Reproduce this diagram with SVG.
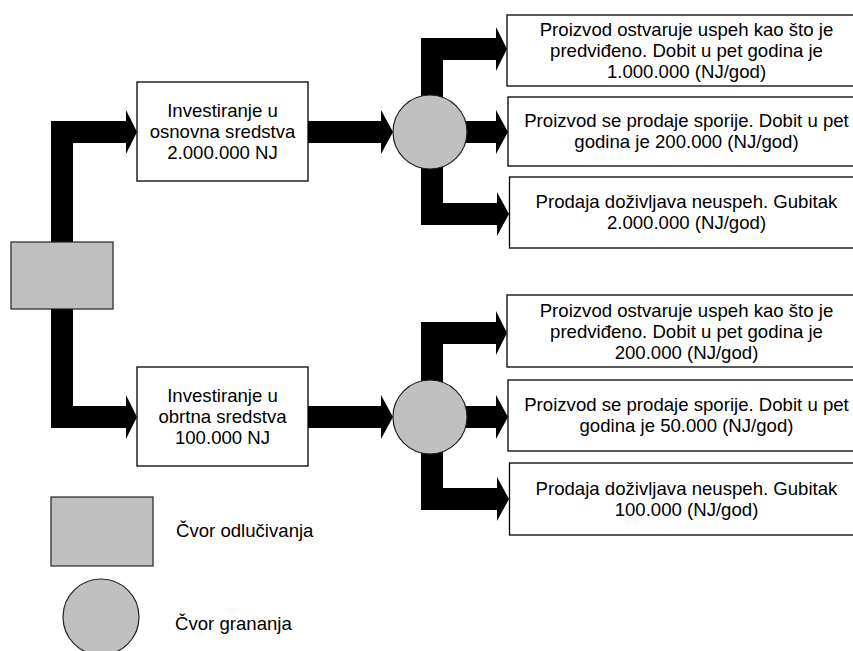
<svg xmlns="http://www.w3.org/2000/svg" width="853" height="651" viewBox="0 0 853 651">
<style>
.box{fill:#fff;stroke:#000;stroke-width:1.3}
.gray{fill:#c0c0c0;stroke:#222;stroke-width:1.2}
.arr{fill:#000;stroke:none}
text{font-family:"Liberation Sans",Arial,sans-serif;font-size:18.6px;fill:#000}
.c{text-anchor:middle}
</style>
<rect width="853" height="651" fill="#fff"/>
<g id="connectors">
<path class="arr" d="M51,242 L51,121 L126,121 L126,110 L137,132 L126,154 L126,143 L73,143 L73,242 Z"/>
<path class="arr" d="M51,309 L51,428 L126,428 L126,439 L137,417 L126,395 L126,406 L73,406 L73,309 Z"/>
<path class="arr" d="M308,121 L381,121 L381,110 L393,132 L381,154 L381,143 L308,143 Z"/>
<path class="arr" d="M308,406 L381,406 L381,395 L393,417 L381,439 L381,428 L308,428 Z"/>
<path class="arr" d="M421,132 L421,38 L496,38 L496,27 L507,49 L496,71 L496,60 L443,60 L443,132 Z"/>
<path class="arr" d="M430,121 L496,121 L496,110 L508,132 L496,154 L496,143 L430,143 Z"/>
<path class="arr" d="M421,132 L421,225 L497,225 L497,236 L509,214 L497,192 L497,203 L443,203 L443,132 Z"/>
<path class="arr" d="M421,417 L421,322 L496,322 L496,311 L507,333 L496,355 L496,344 L443,344 L443,417 Z"/>
<path class="arr" d="M430,406 L496,406 L496,395 L508,417 L496,439 L496,428 L430,428 Z"/>
<path class="arr" d="M421,417 L421,510 L497,510 L497,521 L509,499 L497,477 L497,488 L443,488 L443,417 Z"/>
</g>
<g id="decision"><rect class="gray" x="11" y="242" width="102" height="67"/></g>
<g id="invest1"><rect class="box" x="137" y="82" width="171" height="99"/>
<text class="c" x="222.5" y="117">Investiranje u</text>
<text class="c" x="222.5" y="138">osnovna sredstva</text>
<text class="c" x="222.5" y="159">2.000.000 NJ</text></g>
<g id="invest2"><rect class="box" x="137" y="367" width="171" height="99"/>
<text class="c" x="222.5" y="402">Investiranje u</text>
<text class="c" x="222.5" y="423">obrtna sredstva</text>
<text class="c" x="222.5" y="444">100.000 NJ</text></g>
<g id="chance1"><circle class="gray" cx="430" cy="132" r="37"/></g>
<g id="chance2"><circle class="gray" cx="430" cy="417" r="37"/></g>
<g id="out1"><rect class="box" x="507" y="15" width="360" height="71"/>
<text class="c" x="686.5" y="36">Proizvod ostvaruje uspeh kao što je</text>
<text class="c" x="686.5" y="57">predviđeno. Dobit u pet godina je</text>
<text class="c" x="686.5" y="78">1.000.000 (NJ/god)</text></g>
<g id="out2"><rect class="box" x="508" y="97" width="360" height="69"/>
<text class="c" x="686.5" y="127">Proizvod se prodaje sporije. Dobit u pet</text>
<text class="c" x="686.5" y="148">godina je 200.000 (NJ/god)</text></g>
<g id="out3"><rect class="box" x="509.5" y="177" width="360" height="71"/>
<text class="c" x="686.5" y="208">Prodaja doživljava neuspeh. Gubitak</text>
<text class="c" x="686.5" y="229">2.000.000 (NJ/god)</text></g>
<g id="out4"><rect class="box" x="507" y="295" width="360" height="72"/>
<text class="c" x="686.5" y="317">Proizvod ostvaruje uspeh kao što je</text>
<text class="c" x="686.5" y="338">predviđeno. Dobit u pet godina je</text>
<text class="c" x="686.5" y="359">200.000 (NJ/god)</text></g>
<g id="out5"><rect class="box" x="508" y="380" width="360" height="71"/>
<text class="c" x="686.5" y="411">Proizvod se prodaje sporije. Dobit u pet</text>
<text class="c" x="686.5" y="432">godina je 50.000 (NJ/god)</text></g>
<g id="out6"><rect class="box" x="509.5" y="463" width="360" height="72"/>
<text class="c" x="686.5" y="495">Prodaja doživljava neuspeh. Gubitak</text>
<text class="c" x="686.5" y="516">100.000 (NJ/god)</text></g>
<g id="legend-decision"><rect class="gray" x="51" y="497" width="102" height="69"/>
<text x="176" y="537">Čvor odlučivanja</text></g>
<g id="legend-chance"><circle class="gray" cx="101" cy="617" r="38"/>
<text x="175" y="630">Čvor grananja</text></g>
</svg>
